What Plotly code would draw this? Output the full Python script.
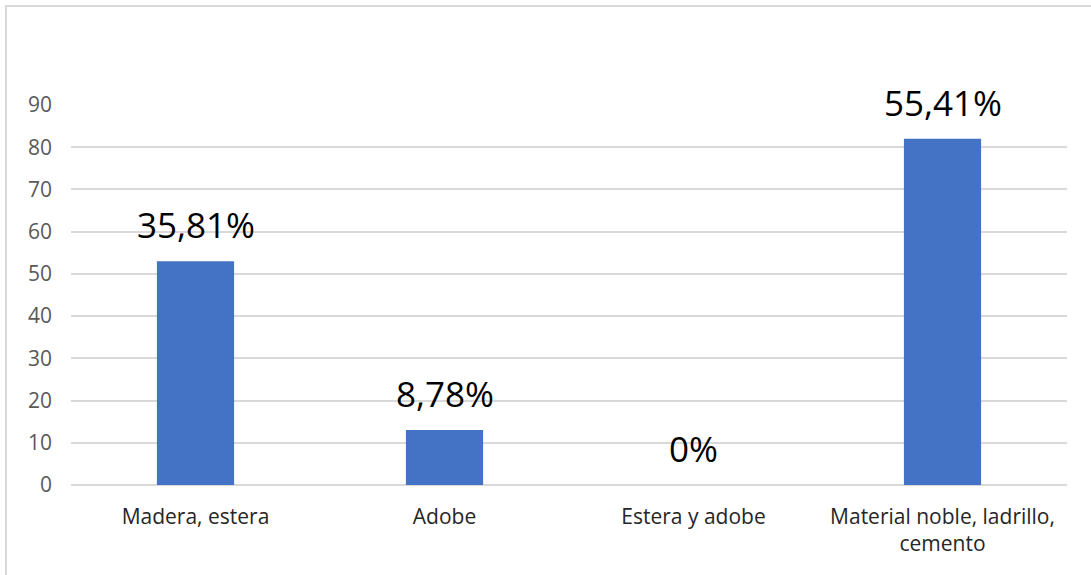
import plotly.graph_objects as go

categories = ["Madera, estera", "Adobe", "Estera y adobe", "Material noble, ladrillo,<br>cemento"]
values = [53, 13, 0, 82]
labels = ["35,81%", "8,78%", "0%", "55,41%"]
yticks = [0, 10, 20, 30, 40, 50, 60, 70, 80, 90]

fig = go.Figure()
fig.add_trace(go.Bar(
    x=categories, y=values,
    marker=dict(color="#4472C4", line=dict(width=0)),
    hoverinfo="x+y",
))

for c, v, t in zip(categories, values, labels):
    fig.add_annotation(x=c, y=v, text=t, showarrow=False, yanchor="bottom",
                       yshift=11, font=dict(size=35, color="#000000", family="Open Sans"))

L, R, T, B = 71, 24, 105, 90
W, H = 1091, 575
pw, ph = W - L - R, H - T - B
fig.update_layout(
    width=W, height=H,
    margin=dict(l=L, r=R, t=T, b=B),
    paper_bgcolor="white", plot_bgcolor="white",
    bargap=0.69,
    showlegend=False,
    xaxis=dict(showgrid=False, showline=False, ticks="",
               tickfont=dict(size=21, color="#262626", family="Open Sans"),
               ticklabelstandoff=17),
    yaxis=dict(range=[0, 90], tickvals=yticks, showgrid=True, gridcolor="#d9d9d9",
               gridwidth=2, zeroline=True, zerolinecolor="#d9d9d9", zerolinewidth=2,
               showline=False, ticks="",
               tickfont=dict(size=21, color="#595959", family="Open Sans"),
               ticklabelstandoff=18),
    shapes=[dict(type="rect", xref="paper", yref="paper",
                 x0=(6 - L) / pw, x1=(W + 20 - L) / pw,
                 y0=-(H + 20 - T - ph) / ph, y1=1 + (T - 6) / ph,
                 line=dict(color="#d9d9d9", width=2), fillcolor="rgba(0,0,0,0)")],
)
fig.write_html("out.html", config={"displayModeBar": False},
               post_script="document.body.style.margin='0';")
